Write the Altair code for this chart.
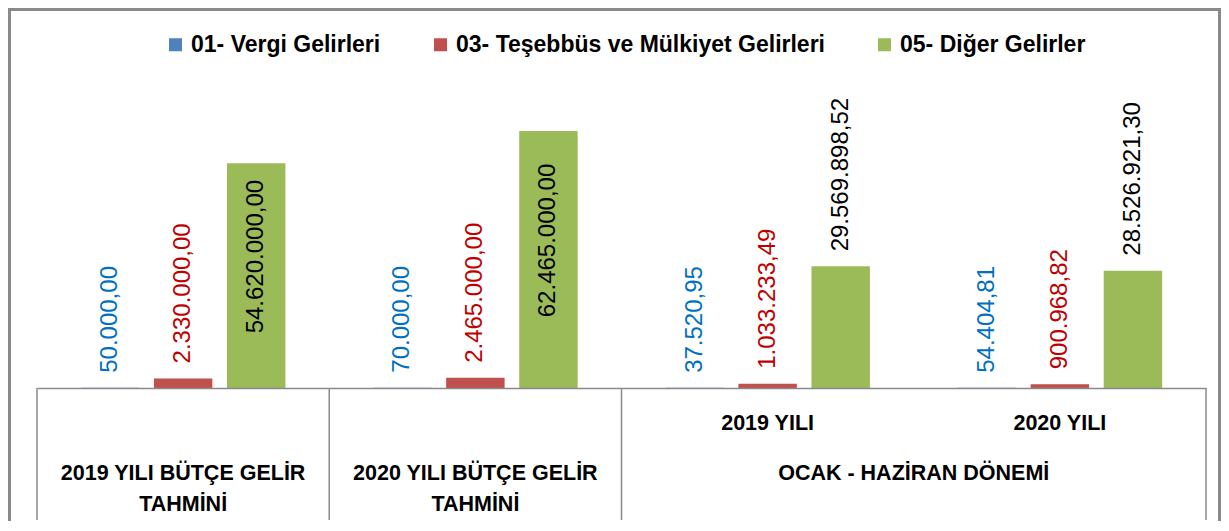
import altair as alt
import pandas as pd

# ---- data ----
group_keys = ["G1", "G2", "G3", "G4"]
series = ["01- Vergi Gelirleri", "03- Teşebbüs ve Mülkiyet Gelirleri", "05- Diğer Gelirler"]
vergi = [50000.00, 70000.00, 37520.95, 54404.81]
tesebbus = [2330000.00, 2465000.00, 1033233.49, 900968.82]
diger = [54620000.00, 62465000.00, 29569898.52, 28526921.30]

row_a_groups = ["G3", "G4"]
row_a_labels = ["2019 YILI", "2020 YILI"]
row_b_groups = ["G1", "G2"]
row_b_labels = ["2019 YILI BÜTÇE GELİR", "2020 YILI BÜTÇE GELİR"]
row_c_groups = ["G1", "G2"]
row_c_labels = ["TAHMİNİ", "TAHMİNİ"]
span_group = ["G4"]
span_label = ["OCAK - HAZİRAN DÖNEMİ"]

bar_colors = ["#4F81BD", "#C0504D", "#9BBB59"]
label_colors = ["#0070C0", "#C00000", "#000000"]

FONT = "Liberation Sans"
W, H = 1169, 288
GRAY = "#8a8a8a"


def tr(v):
    s = f"{v:,.2f}"
    return s.replace(",", "X").replace(".", ",").replace("X", ".")


rows = []
for s, vals, tc in zip(series, [vergi, tesebbus, diger], label_colors):
    for g, v in zip(group_keys, vals):
        rows.append({"grp": g, "series": s, "value": v, "label": tr(v), "tcolor": tc})
df = pd.DataFrame(rows)

xscale = alt.Scale(domain=group_keys, paddingInner=0, paddingOuter=0)
xoff = alt.XOffset("series:N", scale=alt.Scale(domain=series, paddingInner=0.2, paddingOuter=0.6))
yscale = alt.Scale(domain=[0, 70000000])

bars = alt.Chart(df).mark_bar().encode(
    x=alt.X("grp:N", scale=xscale, sort=group_keys,
            axis=alt.Axis(title=None, labels=False, ticks=False, domain=True,
                          domainColor=GRAY, domainWidth=1.5, grid=False, zindex=1)),
    xOffset=xoff,
    y=alt.Y("value:Q", scale=yscale, axis=None),
    color=alt.Color("series:N", scale=alt.Scale(domain=series, range=bar_colors),
                    legend=alt.Legend(title=None, orient="none", legendX=127, legendY=-67,
                                      direction="horizontal", symbolType="square",
                                      symbolSize=169, symbolStrokeWidth=0,
                                      labelFont=FONT, labelFontSize=23, labelFontWeight="bold",
                                      labelColor="#000000", labelOffset=4, columnPadding=48,
                                      padding=0, labelLimit=0)),
)

base_text = alt.Chart(df).transform_calculate(
    inside="datum.value > 40000000", half="datum.value / 2"
)

outside = base_text.transform_filter("!datum.inside").mark_text(
    angle=270, align="left", baseline="middle", dx=15, font=FONT, fontSize=24
).encode(
    x=alt.X("grp:N", scale=xscale, sort=group_keys),
    xOffset=xoff,
    y=alt.Y("value:Q", scale=yscale, axis=None),
    text="label:N",
    color=alt.Color("tcolor:N", scale=None),
)

inside = base_text.transform_filter("datum.inside").mark_text(
    angle=270, align="center", baseline="middle", dx=19, font=FONT, fontSize=24
).encode(
    x=alt.X("grp:N", scale=xscale, sort=group_keys),
    xOffset=xoff,
    y=alt.Y("half:Q", scale=yscale, axis=None),
    text="label:N",
    color=alt.Color("tcolor:N", scale=None),
)

# table dividers
div_left = alt.Chart(pd.DataFrame({"grp": ["G1", "G2", "G3"]})).mark_rule(
    color=GRAY, strokeWidth=1.5
).encode(
    x=alt.X("grp:N", scale=xscale, bandPosition=0),
    y=alt.value(H), y2=alt.value(H + 132),
)
div_right = alt.Chart(pd.DataFrame({"grp": ["G4"]})).mark_rule(
    color=GRAY, strokeWidth=1.5
).encode(
    x=alt.X("grp:N", scale=xscale, bandPosition=1),
    y=alt.value(H), y2=alt.value(H + 132),
)


def label_layer(gs, ls, yoff, band=0.5):
    return alt.Chart(pd.DataFrame({"grp": gs, "txt": ls})).mark_text(
        font=FONT, fontSize=21.5, fontWeight="bold", color="#000000",
        align="center", baseline="middle"
    ).encode(
        x=alt.X("grp:N", scale=xscale, bandPosition=band),
        y=alt.value(H + yoff),
        text="txt:N",
    )


lab_a = label_layer(row_a_groups, row_a_labels, 36)
lab_b = label_layer(row_b_groups, row_b_labels, 86)
lab_c = label_layer(row_c_groups, row_c_labels, 117)
lab_span = label_layer(span_group, span_label, 86, band=0)

border = alt.Chart(pd.DataFrame({"k": [0]})).mark_rect(
    filled=False, stroke=GRAY, strokeWidth=3
).encode(
    x=alt.value(-27.5), x2=alt.value(W + 13.5),
    y=alt.value(-90.5), y2=alt.value(H + 300),
)

chart = alt.layer(
    border, bars, outside, inside, div_left, div_right, lab_a, lab_b, lab_c, lab_span
).properties(
    width=W, height=H,
    background="white",
    padding={"left": 29, "top": 92, "right": 15, "bottom": 133},
    autosize=alt.AutoSizeParams(type="none"),
).configure_view(strokeWidth=0, stroke="transparent")

chart.save("out.html", embed_options={"renderer": "svg", "actions": False})
